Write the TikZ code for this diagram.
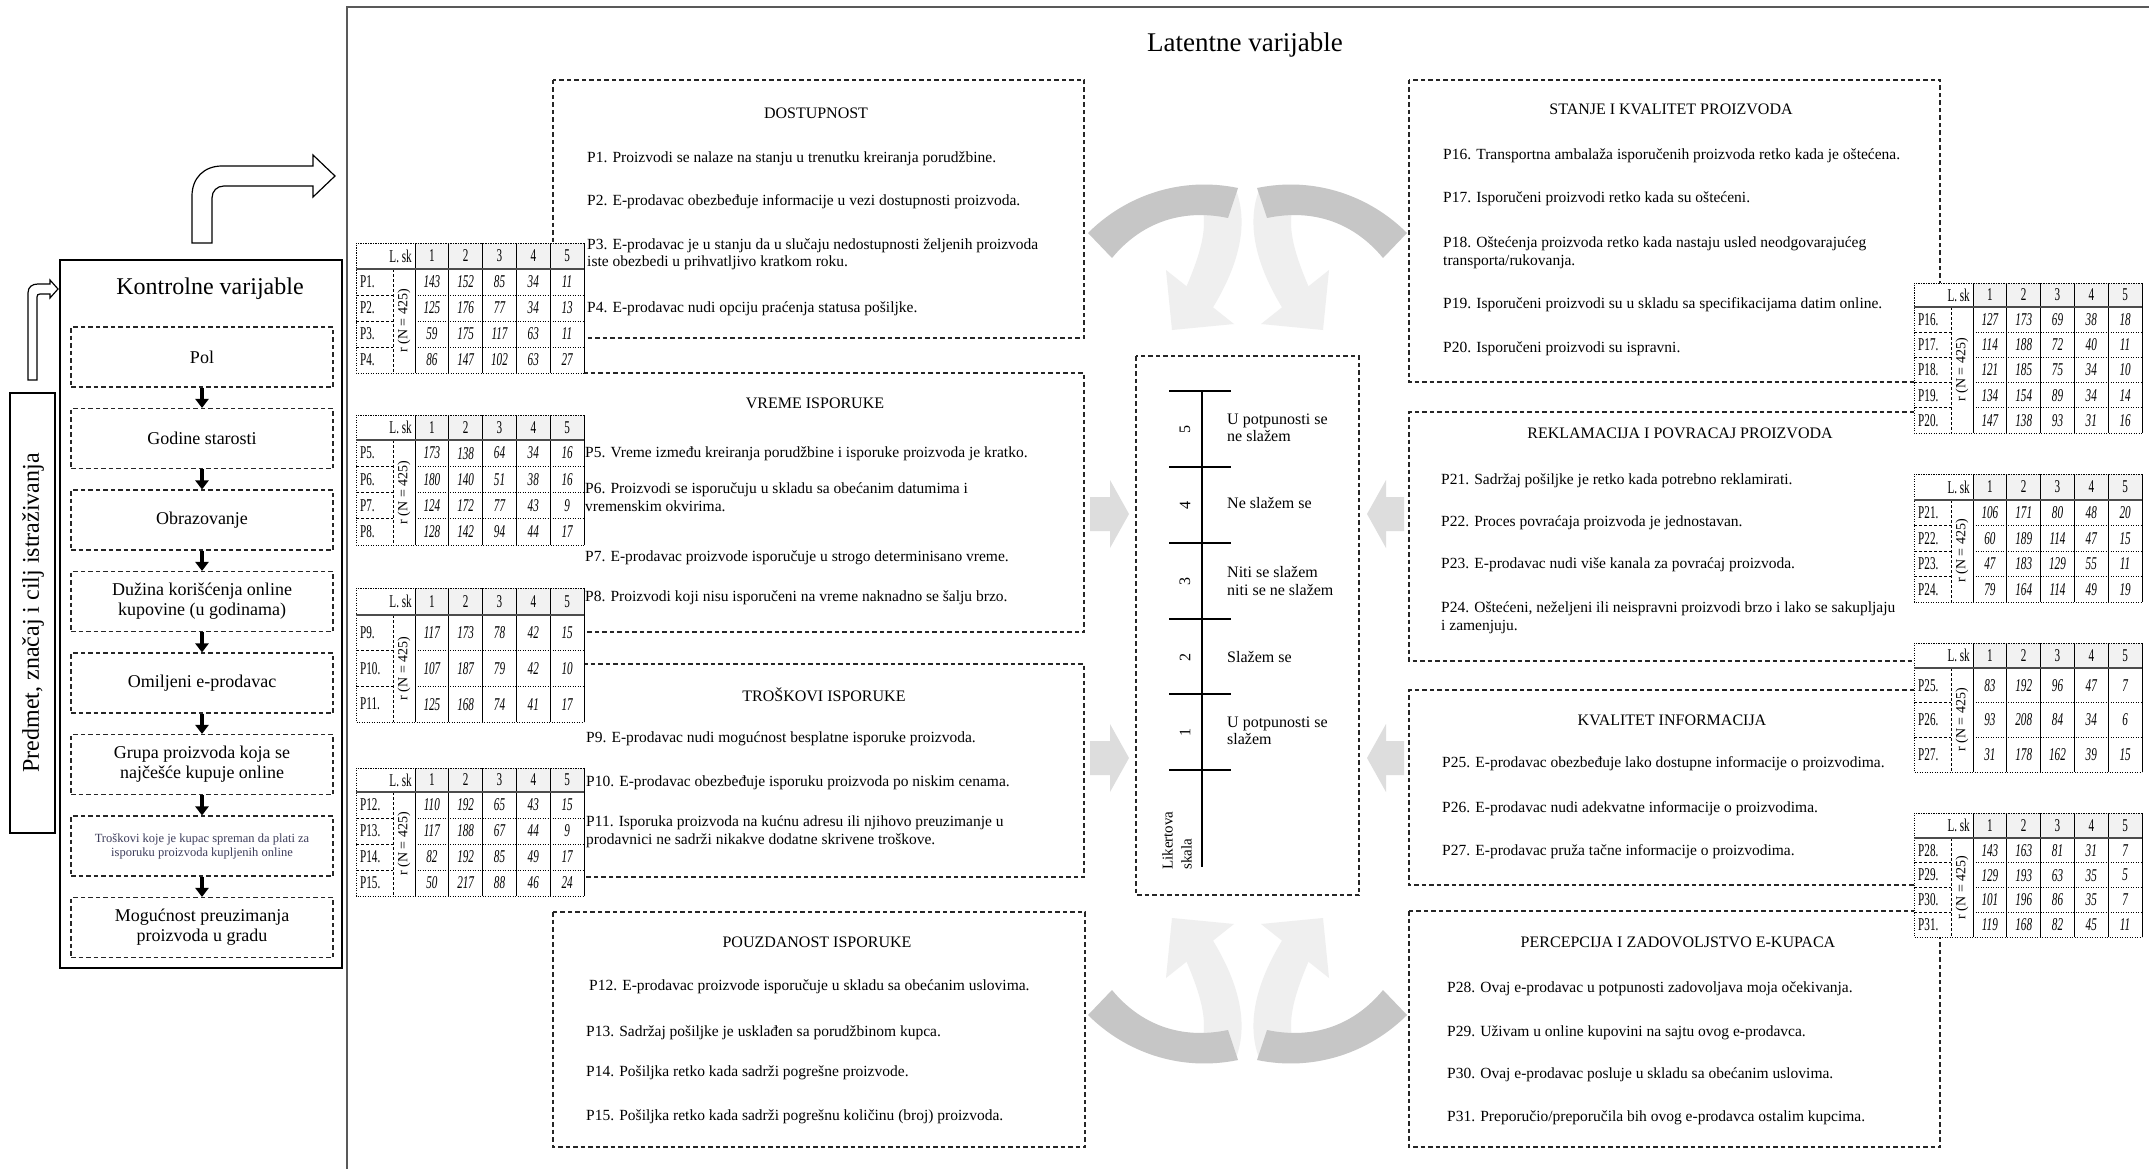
\documentclass[tikz,border=0pt]{standalone}
\usepackage{fontspec}
\setmainfont{Liberation Serif}
\newfontfamily\narrowserif[FakeStretch=0.62]{Liberation Serif}
\usetikzlibrary{arrows.meta}

\definecolor{hdrgray}{HTML}{F2F2F2}
\definecolor{ribbondark}{HTML}{C6C6C6}
\definecolor{ribbonlight}{HTML}{EFEFEF}
\definecolor{blockgray}{HTML}{DDDDDD}
\definecolor{slatetext}{HTML}{3C3C5A}

\tikzset{
  dashbox/.style={draw=black!85, line width=1.1pt, dash pattern=on 4.5pt off 3pt},
  ptext/.style={anchor=west, inner sep=0pt, align=left, font=\fontsize{15.5}{17.5}\selectfont},
  btitle/.style={inner sep=0pt, font=\fontsize{16}{18}\selectfont},
  kbox/.style={draw=black!85, line width=1.1pt, dash pattern=on 4.5pt off 3pt,
    minimum width=262pt, minimum height=60pt, inner sep=2pt, align=center,
    font=\fontsize{18}{20}\selectfont},
  karrow/.style={line width=3.5pt, -{Triangle[width=13pt,length=9pt]}},
  hollow/.style={draw=black, line width=1.2pt, fill=white},
  tabnum/.style={inner sep=0pt, font=\narrowserif\itshape\fontsize{18}{18}\selectfont},
  tabhead/.style={inner sep=0pt, font=\narrowserif\fontsize{18}{18}\selectfont},
  tabrot/.style={inner sep=0pt, rotate=90, font=\fontsize{14}{14}\selectfont},
  dotrule/.style={line width=0.9pt, dash pattern=on 1.2pt off 1.3pt},
  dashrule/.style={line width=0.9pt, dash pattern=on 3pt off 2pt},
  cellrule/.style={line width=0.8pt},
  likert/.style={anchor=west, inner sep=0pt, align=left, font=\fontsize{16}{17.5}\selectfont},
}

% frequency table: name, left, top, header rule, bottom, number of rows, rows
\newcommand\freqtable[7]{%
  \pgfmathsetmacro\rowh{(#5-#4)/#6}
  \fill[white] (#2,#3) rectangle ({#2+228},#5);
  \fill[hdrgray] ({#2+59},#3) rectangle ({#2+228},#4);
  \foreach \j in {0,...,5}
    \draw[cellrule] ({#2+59+33.8*\j},#3) -- ({#2+59+33.8*\j},#5);
  \draw[dotrule] ({#2+228},#3) -- (#2,#3) -- (#2,#5) -- ({#2+228},#5);
  \draw[dashrule] ({#2+37},#4) -- ({#2+37},#5);
  \foreach \r in {2,...,#6} {
    \draw[dashrule] (#2,{#4+(\r-1)*\rowh}) -- ({#2+37},{#4+(\r-1)*\rowh});
    \draw[dotrule] ({#2+59},{#4+(\r-1)*\rowh}) -- ({#2+228},{#4+(\r-1)*\rowh});
  }
  \draw[line width=1.6pt, black!70] (#2,#4) -- ({#2+228},#4);
  \node[tabhead, anchor=east] (#1-lsk) at ({#2+56},{(#3+#4)/2}) {L. sk};
  \foreach \j in {1,...,5}
    \node[tabhead] (#1-c\j) at ({#2+59+33.8*(\j-0.5)},{(#3+#4)/2}) {\j};
  \node[tabrot] (#1-n) at ({#2+48},{(#4+#5)/2}) {r (N = 425)};
  \foreach \lab/\va/\vb/\vc/\vd/\ve [count=\i] in {#7} {
    \node[tabhead, anchor=west] (#1-r\i) at ({#2+4},{#4+(\i-0.5)*\rowh}) {\lab};
    \node[tabnum] (#1-r\i-a) at ({#2+59+33.8*0.5},{#4+(\i-0.5)*\rowh}) {\va};
    \node[tabnum] (#1-r\i-b) at ({#2+59+33.8*1.5},{#4+(\i-0.5)*\rowh}) {\vb};
    \node[tabnum] (#1-r\i-c) at ({#2+59+33.8*2.5},{#4+(\i-0.5)*\rowh}) {\vc};
    \node[tabnum] (#1-r\i-d) at ({#2+59+33.8*3.5},{#4+(\i-0.5)*\rowh}) {\vd};
    \node[tabnum] (#1-r\i-e) at ({#2+59+33.8*4.5},{#4+(\i-0.5)*\rowh}) {\ve};
  }
}

% shaded ribbon arrow (upper left one; the others are reflections)
\newcommand\ribbonarrow{%
  \fill[ribbonlight] (1185,290) .. controls (1200,255) and (1210,225) .. (1200,200)
    -- (1236,190) .. controls (1250,228) and (1236,270) .. (1212,309) -- cycle;
  \fill[ribbonlight] (1166,270) -- (1234,324) -- (1172,330) -- cycle;
  \fill[ribbondark] (1088,233) .. controls (1125,196) and (1180,176) .. (1238,188)
    -- (1228,218) .. controls (1180,208) and (1140,224) .. (1112,258) -- cycle;
}

\begin{document}
\begin{tikzpicture}[x=1pt, y=-1pt]
\useasboundingbox (0,0) rectangle (2149,1169);
\fill[white] (0,0) rectangle (2149,1169);

% frame of the latent variables
\draw[black!65, line width=2pt] (347,1169) -- (347,7) -- (2149,7);
\node[inner sep=0pt, font=\fontsize{27}{30}\selectfont] (lat) at (1245,45) {Latentne varijable};

% ---------------- control variables ----------------
\draw[line width=1.3pt] (10,393) rectangle (55,833);
\node[rotate=90, inner sep=0pt, font=\fontsize{24}{26}\selectfont] (pred) at (33,613) {Predmet, značaj i cilj istraživanja};
\draw[hollow] (28,380) -- (28,293) .. controls (28,287) and (32,284) .. (38,284) -- (50,284)
  -- (50,280) -- (58,289) -- (50,298) -- (50,294) -- (40,294)
  .. controls (38,294) and (37,295) .. (37,297) -- (37,380) -- cycle;

\draw[line width=1.5pt] (60,260) rectangle (342,968);
\draw[hollow] (192,243) -- (192,196) .. controls (192,178) and (204,166) .. (222,166)
  -- (313,166) -- (313,155) -- (335,176) -- (313,197) -- (313,186) -- (224,186)
  .. controls (217,186) and (212,191) .. (212,198) -- (212,243) -- cycle;
\node[inner sep=0pt, font=\fontsize{24}{26}\selectfont] (ktitle) at (210,289) {Kontrolne varijable};

\node[kbox] (k1) at (202,357) {Pol};
\node[kbox] (k2) at (202,438.5) {Godine starosti};
\node[kbox] (k3) at (202,520) {Obrazovanje};
\node[kbox] (k4) at (202,601.5) {Dužina korišćenja online\\kupovine (u godinama)};
\node[kbox] (k5) at (202,683) {Omiljeni e-prodavac};
\node[kbox] (k6) at (202,764.5) {Grupa proizvoda koja se\\najčešće kupuje online};
\node[kbox, text=slatetext, font=\fontsize{12.5}{14}\selectfont] (k7) at (202,846) {Troškovi koje je kupac spreman da plati za\\isporuku proizvoda kupljenih online};
\node[kbox] (k8) at (202,927.5) {Mogućnost preuzimanja\\proizvoda u gradu};
\foreach \a/\b in {k1/k2,k2/k3,k3/k4,k4/k5,k5/k6,k6/k7,k7/k8}
  \draw[karrow] (\a) -- (\b);

% ---------------- grey arrows around the scale ----------------
\ribbonarrow
\begin{scope}[shift={(2495,0)}, xscale=-1] \ribbonarrow \end{scope}
\begin{scope}[shift={(0,1248)}, yscale=-1] \ribbonarrow \end{scope}
\begin{scope}[shift={(2495,1248)}, scale=-1] \ribbonarrow \end{scope}

\foreach \yc in {514,758} {
  \fill[blockgray] (1090,\yc-17) -- (1110,\yc-17) -- (1110,\yc-34) -- (1129,\yc)
    -- (1110,\yc+34) -- (1110,\yc+17) -- (1090,\yc+17) -- cycle;
  \fill[blockgray] (1404,\yc-17) -- (1386,\yc-17) -- (1386,\yc-34) -- (1367,\yc)
    -- (1386,\yc+34) -- (1386,\yc+17) -- (1404,\yc+17) -- cycle;
}

% ---------------- Likert scale ----------------
\draw[dashbox] (1136,356) rectangle (1359,895);
\draw[line width=1.2pt] (1202,391) -- (1202,867);
\foreach \yt in {391,467,543,619,694,770}
  \draw[line width=1.2pt] (1169,\yt) -- (1231,\yt);
\foreach \d/\yd in {5/429,4/505,3/581,2/657,1/732}
  \node[rotate=90, inner sep=0pt, font=\fontsize{16}{16}\selectfont] (sc\d) at (1185,\yd) {\d};
\node[likert] (l5) at (1227,428) {U potpunosti se\\ne slažem};
\node[likert] (l4) at (1227,503) {Ne slažem se};
\node[likert] (l3) at (1227,581) {Niti se slažem\\niti se ne slažem};
\node[likert] (l2) at (1227,657) {Slažem se};
\node[likert] (l1) at (1227,731) {U potpunosti se\\slažem};
\node[rotate=90, anchor=west, inner sep=0pt, align=left, font=\fontsize{15}{19}\selectfont] (lik) at (1177,870) {Likertova\\skala};

% ---------------- left column of factors ----------------
\draw[dashbox] (553,80) rectangle (1084,338);
\node[btitle] (t1) at (816,113) {DOSTUPNOST};
\node[ptext] (p1) at (587,159) {P1. Proizvodi se nalaze na stanju u trenutku kreiranja porudžbine.};
\node[ptext] (p2) at (587,202) {P2. E-prodavac obezbeđuje informacije u vezi dostupnosti proizvoda.};
\node[ptext] (p3) at (587,254.5) {P3. E-prodavac je u stanju da u slučaju nedostupnosti željenih proizvoda\\iste obezbedi u prihvatljivo kratkom roku.};
\node[ptext] (p4) at (587,309) {P4. E-prodavac nudi opciju praćenja statusa pošiljke.};

\draw[dashbox] (583,373) -- (1084,373) -- (1084,632) -- (583,632);
\node[btitle] (t2) at (815,403) {VREME ISPORUKE};
\node[ptext] (p5) at (585,454) {P5. Vreme između kreiranja porudžbine i isporuke proizvoda je kratko.};
\node[ptext] (p6) at (585,497) {P6. Proizvodi se isporučuju u skladu sa obećanim datumima i\\vremenskim okvirima.};
\node[ptext] (p7) at (585,558) {P7. E-prodavac proizvode isporučuje u strogo determinisano vreme.};
\node[ptext] (p8) at (585,598) {P8. Proizvodi koji nisu isporučeni na vreme naknadno se šalju brzo.};

\draw[dashbox] (583,664) -- (1084,664) -- (1084,877) -- (583,877);
\node[btitle] (t3) at (824,695) {TROŠKOVI ISPORUKE};
\node[ptext] (p9) at (586,739) {P9. E-prodavac nudi mogućnost besplatne isporuke proizvoda.};
\node[ptext] (p10) at (586,783) {P10. E-prodavac obezbeđuje isporuku proizvoda po niskim cenama.};
\node[ptext] (p11) at (586,832) {P11. Isporuka proizvoda na kućnu adresu ili njihovo preuzimanje u\\prodavnici ne sadrži nikakve dodatne skrivene troškove.};

\draw[dashbox] (553,912) rectangle (1085,1147);
\node[btitle] (t4) at (817,942) {POUZDANOST ISPORUKE};
\node[ptext] (p12) at (589,987) {P12. E-prodavac proizvode isporučuje u skladu sa obećanim uslovima.};
\node[ptext] (p13) at (586,1033) {P13. Sadržaj pošiljke je usklađen sa porudžbinom kupca.};
\node[ptext] (p14) at (586,1073) {P14. Pošiljka retko kada sadrži pogrešne proizvode.};
\node[ptext] (p15) at (586,1117) {P15. Pošiljka retko kada sadrži pogrešnu količinu (broj) proizvoda.};

% ---------------- right column of factors ----------------
\draw[dashbox] (1409,80) rectangle (1940,382);
\node[btitle] (t5) at (1671,109) {STANJE I KVALITET PROIZVODA};
\node[ptext] (p16) at (1443,156) {P16. Transportna ambalaža isporučenih proizvoda retko kada je oštećena.};
\node[ptext] (p17) at (1443,199) {P17. Isporučeni proizvodi retko kada su oštećeni.};
\node[ptext] (p18) at (1443,253) {P18. Oštećenja proizvoda retko kada nastaju usled neodgovarajućeg\\transporta/rukovanja.};
\node[ptext] (p19) at (1443,305) {P19. Isporučeni proizvodi su u skladu sa specifikacijama datim online.};
\node[ptext] (p20) at (1443,349) {P20. Isporučeni proizvodi su ispravni.};

\draw[dashbox] (1914,412) -- (1409,412) -- (1409,661) -- (1914,661);
\node[btitle] (t6) at (1680,433) {REKLAMACIJA I POVRACAJ PROIZVODA};
\node[ptext] (p21) at (1441,481) {P21. Sadržaj pošiljke je retko kada potrebno reklamirati.};
\node[ptext] (p22) at (1441,523) {P22. Proces povraćaja proizvoda je jednostavan.};
\node[ptext] (p23) at (1441,565) {P23. E-prodavac nudi više kanala za povraćaj proizvoda.};
\node[ptext] (p24) at (1441,618) {P24. Oštećeni, neželjeni ili neispravni proizvodi brzo i lako se sakupljaju\\i zamenjuju.};

\draw[dashbox] (1914,690) -- (1409,690) -- (1409,885) -- (1914,885);
\node[btitle] (t7) at (1672,720) {KVALITET INFORMACIJA};
\node[ptext] (p25) at (1442,764) {P25. E-prodavac obezbeđuje lako dostupne informacije o proizvodima.};
\node[ptext] (p26) at (1442,809) {P26. E-prodavac nudi adekvatne informacije o proizvodima.};
\node[ptext] (p27) at (1442,852) {P27. E-prodavac pruža tačne informacije o proizvodima.};

\draw[dashbox] (1409,911) rectangle (1940,1147);
\node[btitle] (t8) at (1678,942) {PERCEPCIJA I ZADOVOLJSTVO E-KUPACA};
\node[ptext] (p28) at (1447,989) {P28. Ovaj e-prodavac u potpunosti zadovoljava moja očekivanja.};
\node[ptext] (p29) at (1447,1033) {P29. Uživam u online kupovini na sajtu ovog e-prodavca.};
\node[ptext] (p30) at (1447,1075) {P30. Ovaj e-prodavac posluje u skladu sa obećanim uslovima.};
\node[ptext] (p31) at (1447,1118) {P31. Preporučio/preporučila bih ovog e-prodavca ostalim kupcima.};

% ---------------- frequency tables ----------------
\freqtable{ta}{356}{243}{269}{373}{4}{P1./143/152/85/34/11, P2./125/176/77/34/13, P3./59/175/117/63/11, P4./86/147/102/63/27}
\freqtable{tb}{356}{415}{440}{545}{4}{P5./173/138/64/34/16, P6./180/140/51/38/16, P7./124/172/77/43/9, P8./128/142/94/44/17}
\freqtable{tc}{356}{588}{615}{722}{3}{P9./117/173/78/42/15, P10./107/187/79/42/10, P11./125/168/74/41/17}
\freqtable{td}{356}{768}{792}{896}{4}{P12./110/192/65/43/15, P13./117/188/67/44/9, P14./82/192/85/49/17, P15./50/217/88/46/24}
\freqtable{te}{1914}{283}{307}{433}{5}{P16./127/173/69/38/18, P17./114/188/72/40/11, P18./121/185/75/34/10, P19./134/154/89/34/14, P20./147/138/93/31/16}
\freqtable{tf}{1914}{474}{500}{602}{4}{P21./106/171/80/48/20, P22./60/189/114/47/15, P23./47/183/129/55/11, P24./79/164/114/49/19}
\freqtable{tg}{1914}{643}{668}{772}{3}{P25./83/192/96/47/7, P26./93/208/84/34/6, P27./31/178/162/39/15}
\freqtable{th}{1914}{813}{838}{937}{4}{P28./143/163/81/31/7, P29./129/193/63/35/5, P30./101/196/86/35/7, P31./119/168/82/45/11}

\end{tikzpicture}
\end{document}
